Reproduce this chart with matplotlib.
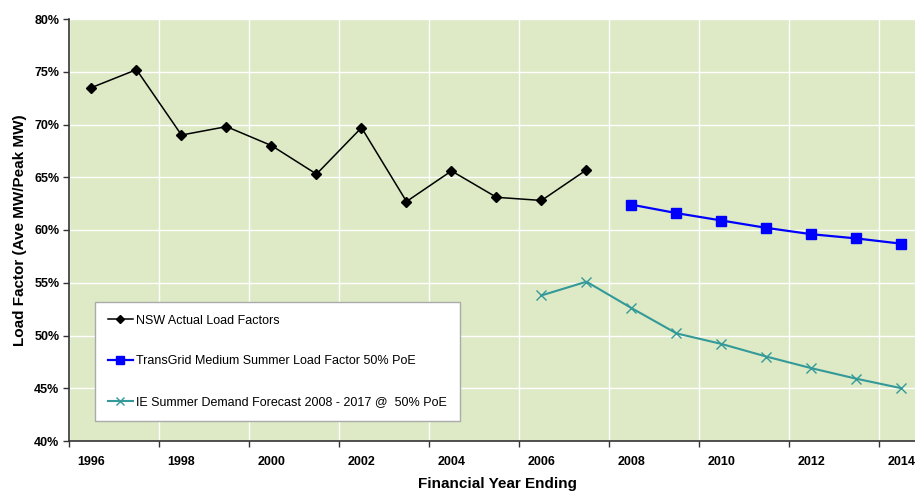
import matplotlib
matplotlib.use("Agg")
import matplotlib.pyplot as plt
from matplotlib.ticker import FixedLocator, FuncFormatter

plt.rcParams['font.family'] = ['Liberation Sans', 'DejaVu Sans']

# Financial years and load factors (%)
actual_years = [1996, 1997, 1998, 1999, 2000, 2001, 2002, 2003, 2004, 2005, 2006, 2007]
actual_lf = [73.5, 75.2, 69.0, 69.8, 68.0, 65.3, 69.7, 62.7, 65.6, 63.1, 62.8, 65.7]

transgrid_years = [2008, 2009, 2010, 2011, 2012, 2013, 2014]
transgrid_lf = [62.4, 61.6, 60.9, 60.2, 59.6, 59.2, 58.7]

ie_years = [2006, 2007, 2008, 2009, 2010, 2011, 2012, 2013, 2014]
ie_lf = [53.8, 55.1, 52.6, 50.2, 49.2, 48.0, 46.9, 45.9, 45.0]

label_years = [1996, 1998, 2000, 2002, 2004, 2006, 2008, 2010, 2012, 2014]

series_labels = [
    "NSW Actual Load Factors",
    "TransGrid Medium Summer Load Factor 50% PoE",
    "IE Summer Demand Forecast 2008 - 2017 @  50% PoE",
]

fig = plt.figure(figsize=(9.15, 4.93), dpi=100)
ax = fig.add_axes([69 / 915, 52 / 493, 855 / 915, 422 / 493])
ax.set_facecolor('#DDEAC5')

ax.plot(actual_years, actual_lf, color='black', lw=1.1, marker='D', ms=5.5,
        label=series_labels[0], zorder=3)
ax.plot(transgrid_years, transgrid_lf, color='#0000FF', lw=1.6, marker='s', ms=7,
        label=series_labels[1], zorder=3)
ax.plot(ie_years, ie_lf, color='#339999', lw=1.5, marker='x', ms=7.5, mew=1.0,
        label=series_labels[2], zorder=3)

# Category-style axis: boundary ticks between years, labels centred on years
ax.set_xlim(label_years[0] - 0.5, label_years[-1] + 0.5)
ax.xaxis.set_major_locator(FixedLocator([y - 0.5 for y in label_years]))
ax.xaxis.set_major_formatter(FuncFormatter(lambda v, p: ""))
ax.xaxis.set_minor_locator(FixedLocator(label_years))
ax.xaxis.set_minor_formatter(FuncFormatter(lambda v, p: f"{int(round(v))}"))
ax.tick_params(axis='x', which='minor', length=0, pad=11, labelsize=9)
ax.tick_params(axis='x', which='major', length=4, width=1, color='#333333')

ax.set_ylim(40, 80)
ax.set_yticks(range(40, 81, 5))
ax.yaxis.set_major_formatter(FuncFormatter(lambda v, p: f"{int(v)}%"))
ax.tick_params(axis='y', length=4, width=1, color='#333333', labelsize=9, pad=3)

for lab in ax.get_xticklabels(minor=True) + ax.get_yticklabels():
    lab.set_fontweight('bold')

ax.grid(True, which='major', color='white', lw=1.0, zorder=0)
ax.set_axisbelow(True)

for side in ('top', 'right'):
    ax.spines[side].set_visible(False)
for side in ('left', 'bottom'):
    ax.spines[side].set_color('#333333')
    ax.spines[side].set_linewidth(1.2)

ax.set_xlabel("Financial Year Ending", fontsize=11, fontweight='bold')
ax.xaxis.set_label_coords((497 - 69) / 855, -0.086)
ax.set_ylabel("Load Factor (Ave MW/Peak MW)", fontsize=11, fontweight='bold')
ax.yaxis.set_label_coords(-0.049, 0.5)

leg = ax.legend(loc='upper left', bbox_to_anchor=((95 - 69) / 855, (441 - 302) / 422),
                borderaxespad=0, frameon=True, fancybox=False, framealpha=1,
                fontsize=9, handlelength=2.0, handletextpad=0.3, labelspacing=2.3,
                borderpad=1.0, markerscale=0.8)
leg.get_frame().set_edgecolor('#AAAAAA')
leg.get_frame().set_linewidth(1.0)

fig.savefig("out.png", dpi=100)
